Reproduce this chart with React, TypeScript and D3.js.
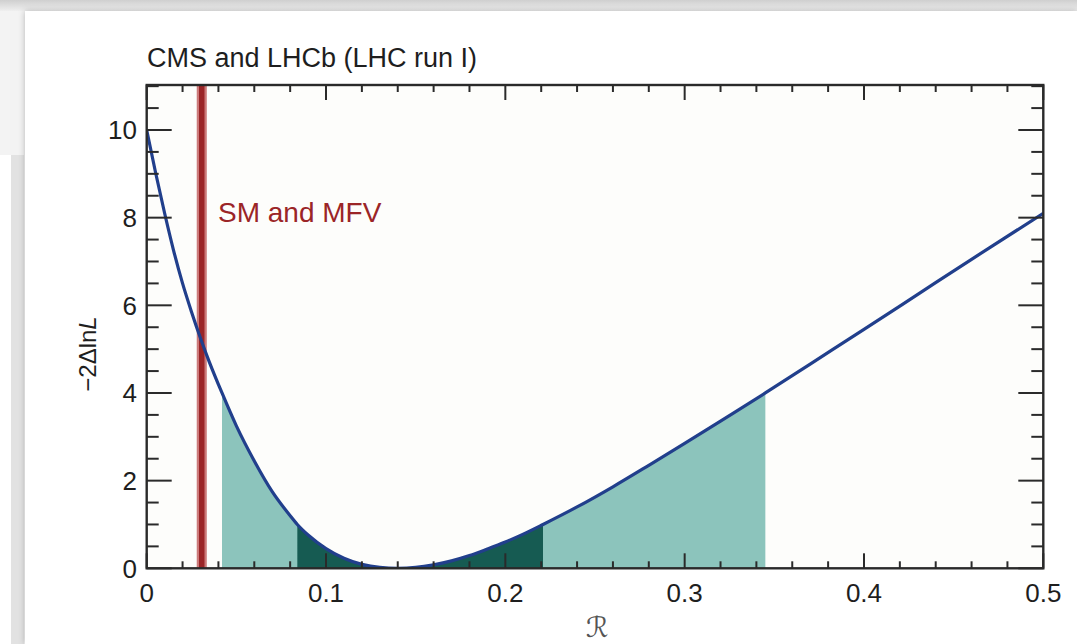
import React from 'react';
import * as d3 from 'd3';

// Likelihood scan: R vs -2ΔlnL
const rValues = [0, 0.005, 0.01, 0.015, 0.02, 0.025, 0.03, 0.035, 0.042, 0.05, 0.06, 0.07, 0.08, 0.084, 0.09, 0.1, 0.11, 0.12, 0.13, 0.14, 0.15, 0.16, 0.17, 0.18, 0.19, 0.2, 0.21, 0.221, 0.24, 0.26, 0.28, 0.3, 0.32, 0.345, 0.37, 0.4, 0.43, 0.46, 0.5];
const nllValues = [10.0, 9.02, 8.1, 7.25, 6.5, 5.85, 5.25, 4.7, 4.0, 3.25, 2.45, 1.75, 1.2, 1.0, 0.76, 0.45, 0.23, 0.09, 0.02, 0, 0.02, 0.08, 0.17, 0.29, 0.44, 0.6, 0.78, 1.0, 1.4, 1.86, 2.35, 2.85, 3.36, 4.0, 4.66, 5.45, 6.25, 7.05, 8.1];

const oneSigma = [0.084, 0.221];
const twoSigma = [0.042, 0.345];
const smBand = [0.0279, 0.0335];
const smValue = 0.0307;

const xMajorTicks = [0, 0.1, 0.2, 0.3, 0.4, 0.5];
const xTickLabels = ['0', '0.1', '0.2', '0.3', '0.4', '0.5'];
const yMajorTicks = [0, 2, 4, 6, 8, 10];
const yTickLabels = ['0', '2', '4', '6', '8', '10'];

const titleText = 'CMS and LHCb (LHC run I)';
const smLabel = 'SM and MFV';

const W = 1077;
const H = 644;
const L = 146.7, R = 1043.3, T = 85, B = 568.3;

export default function App() {
  const x = d3.scaleLinear().domain([0, 0.5]).range([L, R]);
  const y = d3.scaleLinear().domain([0, 11]).range([B, B - 11 * 43.83]);
  const pts = rValues.map((r, i) => ({ r, v: nllValues[i] }));
  const line = d3.line<{ r: number; v: number }>().x(d => x(d.r)).y(d => y(d.v)).curve(d3.curveMonotoneX);
  const area = d3.area<{ r: number; v: number }>().x(d => x(d.r)).y0(y(0)).y1(d => y(d.v)).curve(d3.curveMonotoneX);
  const sub = (a: number, b: number) => pts.filter(p => p.r >= a - 1e-9 && p.r <= b + 1e-9);

  const xMinor = d3.range(0, 0.5001, 0.02).filter(t => !xMajorTicks.some(m => Math.abs(m - t) < 1e-6));
  const yMinor = d3.range(0, 11.001, 0.5).filter(t => !yMajorTicks.some(m => Math.abs(m - t) < 1e-6));
  const axisColor = '#2a2a2a';
  const font = '"Liberation Sans", Arial, Helvetica, sans-serif';

  return (
    <svg width={W} height={H} style={{ position: 'absolute', left: 0, top: 0 }} fontFamily={font}>
      <defs>
        <linearGradient id="topg" x1="0" y1="0" x2="0" y2="1">
          <stop offset="0" stopColor="#cfcfcf" />
          <stop offset="1" stopColor="#efefef" />
        </linearGradient>
        <filter id="shadow" x="-5%" y="-5%" width="110%" height="110%">
          <feDropShadow dx="0" dy="0" stdDeviation="3" floodColor="#000" floodOpacity="0.25" />
        </filter>
        <clipPath id="plotclip">
          <rect x={L} y={T} width={R - L} height={B - T} />
        </clipPath>
      </defs>
      <rect x={0} y={0} width={W} height={H} fill="#f3f3f3" />
      <rect x={0} y={0} width={W} height={11} fill="url(#topg)" />
      <rect x={0} y={155} width={11} height={H - 155} fill="#ffffff" />
      <rect x={11} y={155} width={13} height={H - 155} fill="#e2e2e2" />
      <rect x={25} y={11} width={W - 25} height={H - 11} fill="#ffffff" filter="url(#shadow)" />
      <rect x={L} y={T} width={R - L} height={B - T} fill="#fdfdfb" />

      <g clipPath="url(#plotclip)">
        <path d={area(sub(twoSigma[0], twoSigma[1])) || ''} fill="#8cc4bc" />
        <path d={area(sub(oneSigma[0], oneSigma[1])) || ''} fill="#165b52" />
        <rect x={x(smBand[0])} y={T} width={x(smBand[1]) - x(smBand[0])} height={B - T} fill="#cc7a7a" />
        <line x1={x(smValue)} x2={x(smValue)} y1={T} y2={B} stroke="#9b2527" strokeWidth={5.5} />
      </g>
      <path d={line(pts) || ''} fill="none" stroke="#213f8c" strokeWidth={3.2} clipPath="url(#plotclip)" />

      {/* ticks */}
      <g stroke={axisColor} strokeWidth={2}>
        {xMajorTicks.map(t => (
          <g key={'xm' + t}>
            <line x1={x(t)} x2={x(t)} y1={B} y2={B - 15} />
            <line x1={x(t)} x2={x(t)} y1={T} y2={T + 15} />
          </g>
        ))}
        {xMinor.map(t => (
          <g key={'xn' + t}>
            <line x1={x(t)} x2={x(t)} y1={B} y2={B - 7} />
            <line x1={x(t)} x2={x(t)} y1={T} y2={T + 7} />
          </g>
        ))}
        {yMajorTicks.map(t => (
          <g key={'ym' + t}>
            <line x1={L} x2={L + 25} y1={y(t)} y2={y(t)} />
            <line x1={R} x2={R - 25} y1={y(t)} y2={y(t)} />
          </g>
        ))}
        {yMinor.map(t => (
          <g key={'yn' + t}>
            <line x1={L} x2={L + 12} y1={y(t)} y2={y(t)} />
            <line x1={R} x2={R - 12} y1={y(t)} y2={y(t)} />
          </g>
        ))}
      </g>
      <rect x={L} y={T} width={R - L} height={B - T} fill="none" stroke={axisColor} strokeWidth={2.4} />

      {/* tick labels */}
      <g fontSize={26} fill="#1e1e1e">
        {xMajorTicks.map((t, i) => (
          <text key={'xl' + t} x={x(t)} y={602} textAnchor="middle">{xTickLabels[i]}</text>
        ))}
        {yMajorTicks.map((t, i) => (
          <text key={'yl' + t} x={137} y={y(t) + 9.3} textAnchor="end">{yTickLabels[i]}</text>
        ))}
      </g>

      <text x={147} y={67} fontSize={27} fill="#1e1e1e">{titleText}</text>
      <text x={218} y={222} fontSize={28} fill="#9b2527">{smLabel}</text>

      <text transform="translate(96,354) rotate(-90)" textAnchor="middle" fontSize={24} fill="#1e1e1e">
        −2Δln<tspan fontStyle="italic">L</tspan>
      </text>
      <text x={597} y={637} textAnchor="middle" fontSize={28} fill="#555" fontFamily='"DejaVu Sans", sans-serif'>ℛ</text>
    </svg>
  );
}
